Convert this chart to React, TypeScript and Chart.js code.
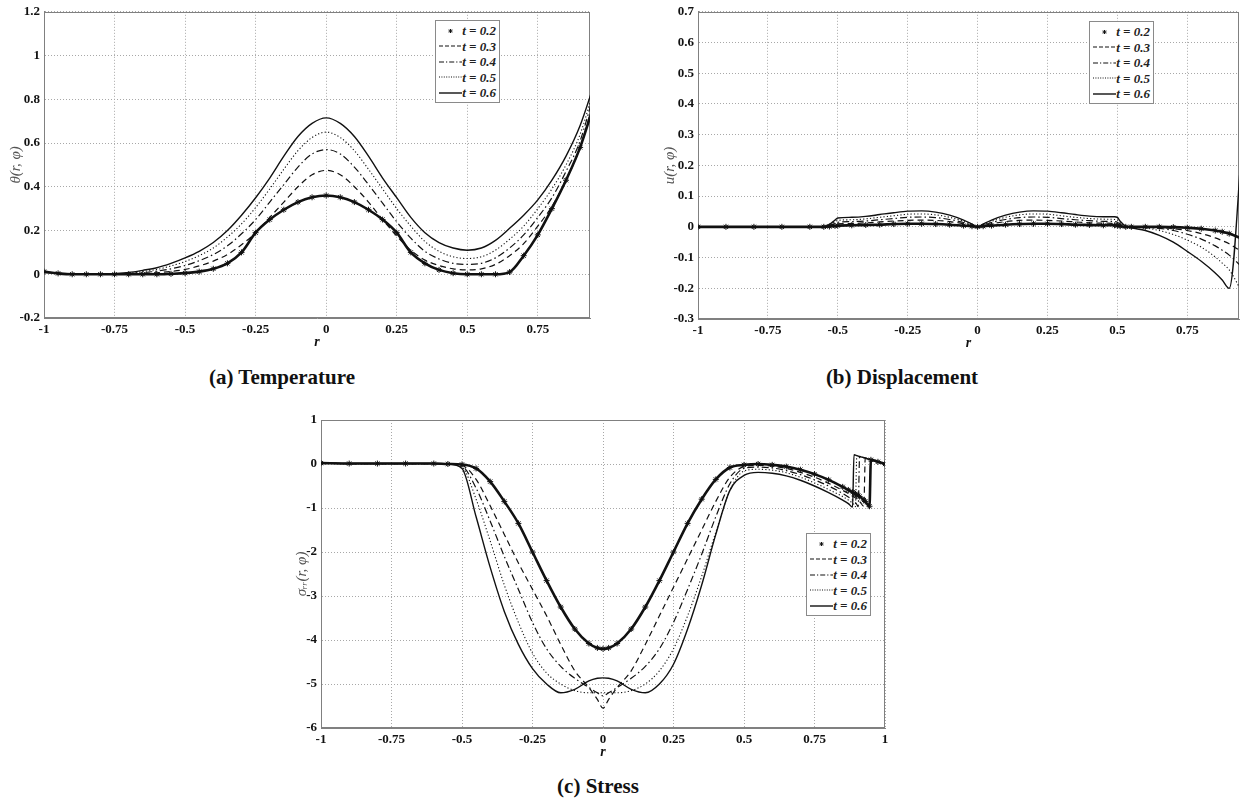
import React, { useEffect, useRef } from "react";
import { Chart, registerables } from "chart.js";

Chart.register(...registerables);

const FONT = '"Liberation Serif", "Times New Roman", "DejaVu Serif", serif';

const SERIES = ["t = 0.2", "t = 0.3", "t = 0.4", "t = 0.5", "t = 0.6"];

const X_TICKS_AB = [-1, -0.75, -0.5, -0.25, 0, 0.25, 0.5, 0.75];
const X_TICKS_C = [-1, -0.75, -0.5, -0.25, 0, 0.25, 0.5, 0.75, 1];
const Y_TICKS_A = [-0.2, 0, 0.2, 0.4, 0.6, 0.8, 1, 1.2];
const Y_TICKS_B = [-0.3, -0.2, -0.1, 0, 0.1, 0.2, 0.3, 0.4, 0.5, 0.6, 0.7];
const Y_TICKS_C = [-6, -5, -4, -3, -2, -1, 0, 1];

// ---------- (a) Temperature ----------
const R_A = [
  -1, -0.95, -0.9, -0.85, -0.8, -0.75, -0.7, -0.65, -0.6, -0.55, -0.5, -0.45, -0.4, -0.35, -0.3, -0.25, -0.2, -0.15, -0.1, -0.05,
  0, 0.05, 0.1, 0.15, 0.2, 0.25, 0.3, 0.35, 0.4, 0.45, 0.5, 0.55, 0.6, 0.65, 0.7, 0.75, 0.8, 0.85, 0.9, 0.95,
];
const THETA_02 = [
  0.012, 0.004, 0, 0, 0, 0, 0, 0, 0, 0.002, 0.005, 0.012, 0.025, 0.05, 0.1, 0.19, 0.25, 0.295, 0.33, 0.352,
  0.36, 0.352, 0.33, 0.295, 0.25, 0.19, 0.1, 0.05, 0.02, 0.005, 0, 0, 0, 0.01, 0.085, 0.18, 0.3, 0.43, 0.58, 0.78,
];
const THETA_03 = [
  0.01, 0.004, 0.001, 0, 0, 0, 0.001, 0.003, 0.007, 0.013, 0.022, 0.038, 0.06, 0.09, 0.135, 0.19, 0.26, 0.33, 0.4, 0.455,
  0.475, 0.455, 0.4, 0.33, 0.25, 0.175, 0.11, 0.065, 0.04, 0.025, 0.02, 0.025, 0.045, 0.085, 0.14, 0.22, 0.31, 0.43, 0.58, 0.8,
];
const THETA_04 = [
  0.01, 0.004, 0.001, 0, 0, 0.001, 0.003, 0.007, 0.014, 0.025, 0.04, 0.062, 0.09, 0.13, 0.185, 0.25, 0.33, 0.41, 0.49, 0.55,
  0.57, 0.55, 0.49, 0.41, 0.325, 0.24, 0.165, 0.105, 0.07, 0.05, 0.045, 0.05, 0.075, 0.12, 0.18, 0.26, 0.35, 0.47, 0.61, 0.83,
];
const THETA_05 = [
  0.01, 0.005, 0.002, 0, 0, 0.002, 0.005, 0.012, 0.022, 0.038, 0.058, 0.085, 0.12, 0.17, 0.23, 0.305, 0.39, 0.48, 0.565, 0.625,
  0.65, 0.625, 0.565, 0.48, 0.39, 0.3, 0.22, 0.15, 0.105, 0.08, 0.072, 0.08, 0.11, 0.16, 0.22, 0.3, 0.39, 0.5, 0.64, 0.85,
];
const THETA_06 = [
  0.01, 0.005, 0.002, 0, 0, 0.003, 0.008, 0.018, 0.03, 0.05, 0.075, 0.105, 0.145, 0.2, 0.27, 0.35, 0.44, 0.54, 0.63, 0.69,
  0.715, 0.69, 0.63, 0.54, 0.44, 0.35, 0.26, 0.19, 0.145, 0.12, 0.11, 0.12, 0.155, 0.21, 0.27, 0.34, 0.43, 0.54, 0.68, 0.87,
];

// ---------- (b) Displacement ----------
const R_B = [
  -1, -0.9, -0.8, -0.7, -0.6, -0.55, -0.53, -0.51, -0.5, -0.45, -0.4, -0.35, -0.3, -0.25, -0.2, -0.15, -0.1, -0.05,
  -0.02, 0, 0.02, 0.05, 0.1, 0.15, 0.2, 0.25, 0.3, 0.35, 0.4, 0.45, 0.49, 0.5, 0.51, 0.53, 0.55,
  0.6, 0.65, 0.7, 0.75, 0.8, 0.85, 0.875, 0.9, 0.95,
];
const U_02 = [
  0, 0, 0, 0, 0, 0, 0.001, 0.003, 0.004, 0.005, 0.006, 0.007, 0.009, 0.01, 0.01, 0.009, 0.007, 0.004,
  0.002, 0, 0.002, 0.004, 0.007, 0.009, 0.01, 0.01, 0.009, 0.007, 0.006, 0.005, 0.005, 0.004, 0.002, 0, 0,
  0, 0, -0.001, -0.003, -0.006, -0.012, -0.016, -0.022, -0.04,
];
const U_03 = [
  0, 0, 0, 0, 0, 0, 0.003, 0.007, 0.01, 0.011, 0.013, 0.016, 0.019, 0.021, 0.022, 0.021, 0.017, 0.01,
  0.004, 0, 0.004, 0.01, 0.017, 0.021, 0.022, 0.021, 0.019, 0.016, 0.013, 0.012, 0.011, 0.01, 0.006, 0.001, 0,
  0, -0.002, -0.006, -0.012, -0.022, -0.036, -0.045, -0.055, -0.085,
];
const U_04 = [
  0, 0, 0, 0, 0, 0, 0.004, 0.011, 0.015, 0.017, 0.019, 0.023, 0.027, 0.031, 0.032, 0.03, 0.024, 0.014,
  0.005, 0, 0.005, 0.014, 0.024, 0.03, 0.032, 0.031, 0.027, 0.023, 0.02, 0.018, 0.017, 0.015, 0.009, 0.001, 0,
  -0.002, -0.005, -0.012, -0.024, -0.04, -0.062, -0.076, -0.092, -0.135,
];
const U_05 = [
  0, 0, 0, 0, 0, 0.001, 0.006, 0.016, 0.021, 0.023, 0.026, 0.031, 0.036, 0.041, 0.042, 0.039, 0.031, 0.018,
  0.007, 0, 0.007, 0.018, 0.031, 0.039, 0.042, 0.041, 0.036, 0.031, 0.027, 0.025, 0.024, 0.022, 0.013, 0.001, -0.001,
  -0.004, -0.012, -0.025, -0.043, -0.066, -0.098, -0.118, -0.14, -0.22,
];
const U_06 = [
  0, 0, 0, 0, 0, 0.001, 0.008, 0.022, 0.029, 0.031, 0.034, 0.04, 0.046, 0.051, 0.052, 0.048, 0.038, 0.022,
  0.009, 0, 0.009, 0.022, 0.038, 0.048, 0.052, 0.051, 0.046, 0.04, 0.035, 0.033, 0.033, 0.031, 0.018, 0.002, -0.003,
  -0.012, -0.028, -0.05, -0.08, -0.112, -0.15, -0.173, -0.2, 0.33,
];

// ---------- (c) Stress ----------
const R_C = [
  -1, -0.9, -0.8, -0.7, -0.6, -0.55, -0.5, -0.45, -0.4, -0.35, -0.3, -0.25, -0.2, -0.15, -0.1, -0.05,
  -0.02, 0, 0.02, 0.05, 0.1, 0.15, 0.2, 0.25, 0.3, 0.35, 0.4, 0.45, 0.5, 0.55, 0.6, 0.65, 0.7, 0.75, 0.8, 0.85,
  0.87, 0.885, 0.89, 0.895, 0.9, 0.905, 0.91, 0.925, 0.93, 0.945, 0.95, 0.975, 1,
];
const S_02 = [
  0.02, 0.01, 0.01, 0.01, 0.01, 0, -0.01, -0.1, -0.4, -0.85, -1.35, -2.0, -2.65, -3.25, -3.75, -4.08,
  -4.18, -4.2, -4.18, -4.08, -3.75, -3.25, -2.65, -2.0, -1.35, -0.8, -0.35, -0.08, -0.02, 0, -0.02, -0.06, -0.13, -0.23, -0.36, -0.52,
  -0.59, -0.64, -0.66, -0.68, -0.7, -0.72, -0.74, -0.82, -0.85, -0.96, 0.095, 0.05, 0,
];
const S_03 = [
  0.02, 0.01, 0.01, 0.01, 0.01, 0, -0.03, -0.35, -0.95, -1.6, -2.25, -2.85, -3.45, -4.1, -4.7, -5.08,
  -5.35, -5.55, -5.35, -5.08, -4.7, -4.1, -3.45, -2.8, -2.15, -1.5, -0.85, -0.3, -0.06, -0.03, -0.05, -0.1, -0.19, -0.3, -0.44, -0.6,
  -0.67, -0.73, -0.75, -0.77, -0.8, -0.82, -0.85, -0.96, 0.135, 0.105, 0.095, 0.05, 0,
];
const S_04 = [
  0.02, 0.01, 0.01, 0.01, 0.01, 0, -0.05, -0.55, -1.3, -2.1, -2.85, -3.6, -4.2, -4.6, -4.87, -5.08,
  -5.2, -5.27, -5.2, -5.08, -4.87, -4.6, -4.2, -3.6, -2.85, -2.05, -1.2, -0.45, -0.1, -0.07, -0.09, -0.15, -0.24, -0.36, -0.5, -0.67,
  -0.75, -0.82, -0.85, -0.88, -0.92, -0.97, 0.17, 0.145, 0.135, 0.105, 0.095, 0.05, 0,
];
const S_05 = [
  0.02, 0.01, 0.01, 0.01, 0.01, 0, -0.07, -0.8, -1.75, -2.75, -3.6, -4.3, -4.75, -5.0, -5.15, -5.2,
  -5.2, -5.2, -5.2, -5.2, -5.15, -5.0, -4.7, -4.2, -3.45, -2.55, -1.55, -0.6, -0.16, -0.12, -0.14, -0.2, -0.3, -0.43, -0.58, -0.74,
  -0.82, -0.89, -0.92, -0.97, 0.19, 0.18, 0.17, 0.145, 0.135, 0.105, 0.095, 0.05, 0,
];
const S_06 = [
  0.02, 0.01, 0.01, 0.01, 0.01, 0, -0.1, -1.2, -2.35, -3.35, -4.1, -4.65, -5.0, -5.2, -5.12, -4.93,
  -4.87, -4.86, -4.87, -4.93, -5.12, -5.2, -5.0, -4.55, -3.75, -2.75, -1.6, -0.6, -0.26, -0.19, -0.21, -0.27, -0.37, -0.5, -0.65, -0.82,
  -0.9, -0.98, 0.21, 0.2, 0.19, 0.18, 0.17, 0.145, 0.135, 0.105, 0.095, 0.05, 0,
];

const LINE_STYLES = [
  { borderWidth: 2.6, borderDash: [] as number[], marker: true },
  { borderWidth: 1.2, borderDash: [6, 4], marker: false },
  { borderWidth: 1.2, borderDash: [7, 3, 1.5, 3], marker: false },
  { borderWidth: 1.1, borderDash: [1.2, 2.2], marker: false },
  { borderWidth: 1.4, borderDash: [] as number[], marker: false },
];

const boxPlugin = {
  id: "boxFrame",
  beforeDatasetsDraw(chart: any) {
    const { ctx, chartArea: a } = chart;
    ctx.save();
    ctx.strokeStyle = "#808080";
    ctx.lineWidth = 1;
    ctx.setLineDash([]);
    const l = Math.round(a.left) + 0.5;
    const t = Math.round(a.top) + 0.5;
    const r = Math.round(a.right) - 0.5;
    const b = Math.round(a.bottom) - 0.5;
    ctx.strokeRect(l, t, r - l, b - t);
    ctx.restore();
  },
};

type PanelProps = {
  left: number;
  top: number;
  width: number;
  height: number;
  padTop: number;
  padRight: number;
  yAxisWidth: number;
  yTitlePad: number;
  xs: number[];
  ys: number[][];
  xMax: number;
  yMin: number;
  yMax: number;
  xTicks: number[];
  yTicks: number[];
  yTitle: string;
};

function Panel(p: PanelProps) {
  const ref = useRef<HTMLCanvasElement | null>(null);
  useEffect(() => {
    if (!ref.current) return;
    const datasets = p.ys.map((ys, k) => {
      const st = LINE_STYLES[k];
      return {
        label: SERIES[k],
        data: p.xs.map((x, i) => ({ x, y: ys[i] })),
        borderColor: "#111",
        backgroundColor: "#111",
        borderWidth: st.borderWidth,
        borderDash: st.borderDash,
        cubicInterpolationMode: "monotone" as const,
        pointStyle: "star" as const,
        pointRadius: st.marker ? 3 : 0,
        pointBorderWidth: 1,
        pointBorderColor: "#111",
        fill: false,
        clip: 0,
      };
    });
    const tickFont = { family: FONT, size: 13, weight: "bold" as const };
    const chart = new Chart(ref.current, {
      type: "line",
      data: { datasets },
      options: {
        animation: false,
        responsive: false,
        devicePixelRatio: 1,
        events: [],
        layout: { padding: { top: p.padTop, right: p.padRight, left: 0, bottom: 0 } },
        plugins: { legend: { display: false }, tooltip: { enabled: false } },
        scales: {
          x: {
            type: "linear",
            min: -1,
            max: p.xMax,
            afterBuildTicks: (ax: any) => {
              ax.ticks = p.xTicks.map((v) => ({ value: v }));
            },
            afterFit: (s: any) => {
              s.height = 33;
            },
            ticks: {
              font: tickFont,
              color: "#111",
              padding: 4,
              maxRotation: 0,
              autoSkip: false,
              callback: (v: any) => String(v),
            },
            grid: { color: "#a8a8a8", lineWidth: 1, drawTicks: false },
            border: { display: true, color: "#808080", width: 1, dash: [1, 2] },
            title: {
              display: true,
              text: "r",
              font: { family: FONT, size: 14, weight: "bold", style: "italic" },
              color: "#111",
              padding: { top: 0, bottom: 0 },
            },
          },
          y: {
            type: "linear",
            min: p.yMin,
            max: p.yMax,
            afterBuildTicks: (ax: any) => {
              ax.ticks = p.yTicks.map((v) => ({ value: v }));
            },
            afterFit: (s: any) => {
              s.width = p.yAxisWidth;
            },
            ticks: {
              font: tickFont,
              color: "#111",
              padding: 4,
              autoSkip: false,
              callback: (v: any) => String(v),
            },
            grid: { color: "#a8a8a8", lineWidth: 1, drawTicks: false },
            border: { display: true, color: "#808080", width: 1, dash: [1, 2] },
            title: {
              display: true,
              text: p.yTitle,
              font: { family: FONT, size: 15, style: "italic" },
              color: "#555",
              padding: { top: p.yTitlePad, bottom: 0 },
            },
          },
        },
      },
      plugins: [boxPlugin],
    } as any);
    return () => chart.destroy();
  }, []);
  return (
    <canvas
      ref={ref}
      width={p.width}
      height={p.height}
      style={{ position: "absolute", left: p.left, top: p.top, width: p.width, height: p.height }}
    />
  );
}

function LegendSample({ k }: { k: number }) {
  if (k === 0) {
    return (
      <svg width={23} height={10} style={{ display: "block" }}>
        <g stroke="#111" strokeWidth={1}>
          <line x1={9.5} y1={5} x2={13.5} y2={5} />
          <line x1={11.5} y1={3} x2={11.5} y2={7} />
          <line x1={10} y1={3.5} x2={13} y2={6.5} />
          <line x1={13} y1={3.5} x2={10} y2={6.5} />
        </g>
      </svg>
    );
  }
  const dash = ["", "4 2", "5 2 1.2 2", "1 1.4", ""][k];
  return (
    <svg width={23} height={10} style={{ display: "block" }}>
      <line x1={0} y1={5} x2={23} y2={5} stroke="#111" strokeWidth={k === 4 ? 1.4 : 1.2} strokeDasharray={dash || undefined} />
    </svg>
  );
}

function Legend({ left, top }: { left: number; top: number }) {
  return (
    <div
      style={{
        position: "absolute",
        left,
        top,
        width: 65,
        height: 83,
        boxSizing: "border-box",
        border: "1px solid #8a8a8a",
        background: "#fff",
        paddingTop: 2,
      }}
    >
      {SERIES.map((s, k) => (
        <div
          key={s}
          style={{
            height: 15.5,
            display: "flex",
            alignItems: "center",
            justifyContent: "flex-end",
            paddingRight: 3,
          }}
        >
          <LegendSample k={k} />
          <span
            style={{
              font: `italic bold 13px ${FONT}`,
              whiteSpace: "nowrap",
              color: "#222",
              lineHeight: "15px",
            }}
          >
            {s}
          </span>
        </div>
      ))}
    </div>
  );
}

function Caption({ cx, cy, text }: { cx: number; cy: number; text: string }) {
  return (
    <div
      style={{
        position: "absolute",
        left: cx - 130,
        top: cy - 12,
        width: 260,
        height: 24,
        lineHeight: "24px",
        textAlign: "center",
        font: `bold 21px ${FONT}`,
        color: "#111",
        whiteSpace: "nowrap",
      }}
    >
      {text}
    </div>
  );
}

export default function App() {
  return (
    <div
      style={{
        position: "absolute",
        left: 0,
        top: 0,
        width: 1244,
        height: 803,
        background: "#fff",
        overflow: "hidden",
      }}
    >
      <Panel
        left={0}
        top={0}
        width={600}
        height={351}
        padTop={11}
        padRight={10}
        yAxisWidth={44}
        yTitlePad={7}
        xs={R_A}
        ys={[THETA_02, THETA_03, THETA_04, THETA_05, THETA_06]}
        xMax={0.935}
        yMin={-0.2}
        yMax={1.2}
        xTicks={X_TICKS_AB}
        yTicks={Y_TICKS_A}
        yTitle="θ(r, φ)"
      />
      <Panel
        left={654}
        top={0}
        width={590}
        height={352}
        padTop={11}
        padRight={0}
        yAxisWidth={44}
        yTitlePad={7}
        xs={R_B}
        ys={[U_02, U_03, U_04, U_05, U_06]}
        xMax={0.935}
        yMin={-0.3}
        yMax={0.7}
        xTicks={X_TICKS_AB}
        yTicks={Y_TICKS_B}
        yTitle="u(r, φ)"
      />
      <Panel
        left={285}
        top={405}
        width={615}
        height={356}
        padTop={15}
        padRight={15}
        yAxisWidth={36}
        yTitlePad={8}
        xs={R_C}
        ys={[S_02, S_03, S_04, S_05, S_06]}
        xMax={1}
        yMin={-6}
        yMax={1}
        xTicks={X_TICKS_C}
        yTicks={Y_TICKS_C}
        yTitle="σᵣᵣ(r, φ)"
      />
      <Legend left={435} top={20} />
      <Legend left={1089} top={21} />
      <Legend left={806} top={533} />
      <Caption cx={282} cy={377} text="(a) Temperature" />
      <Caption cx={902} cy={377} text="(b) Displacement" />
      <Caption cx={598} cy={786} text="(c) Stress" />
    </div>
  );
}
